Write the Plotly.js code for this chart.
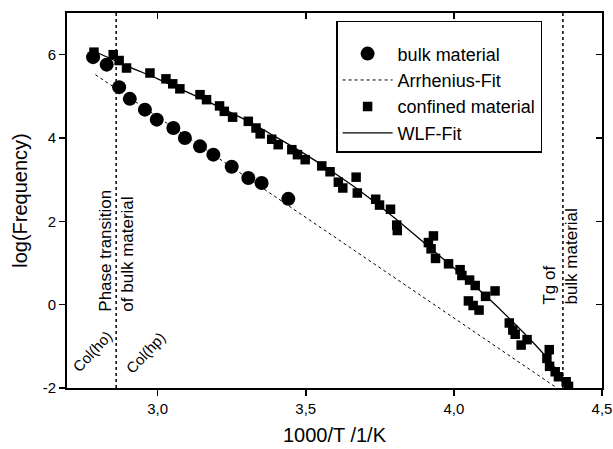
<!DOCTYPE html>
<html>
<head>
<meta charset="utf-8">
<script src="https://cdn.plot.ly/plotly-3.0.1.min.js"></script>
<style>html,body{margin:0;padding:0;background:#fff;}#chart{width:613px;height:449px;}</style>
</head>
<body>
<div id="chart"></div>
<script>
// ---- data ----
const bulkX = [2.782, 2.828, 2.870, 2.906, 2.957, 2.997, 3.053, 3.092, 3.143, 3.188, 3.250, 3.306, 3.351, 3.441];
const bulkY = [5.94, 5.76, 5.22, 4.94, 4.68, 4.44, 4.24, 4.00, 3.80, 3.60, 3.31, 3.04, 2.92, 2.54];

const arrheniusX = [2.790, 4.342];
const arrheniusY = [5.52, -1.97];

const confX = [2.785, 2.850, 2.870, 2.895, 2.974, 3.028, 3.051, 3.075, 3.143, 3.165,
               3.209, 3.225, 3.253, 3.306, 3.332, 3.346, 3.385, 3.407, 3.453, 3.472,
               3.498, 3.554, 3.582, 3.610, 3.625, 3.670, 3.674, 3.736, 3.749, 3.786,
               3.807, 3.809, 3.914, 3.931, 3.923, 3.938, 3.982, 4.021, 4.027, 4.053,
               4.072, 4.107, 4.139, 4.049, 4.065, 4.085, 4.187, 4.199, 4.207, 4.247,
               4.227, 4.322, 4.314, 4.323, 4.342, 4.353, 4.379, 4.387];
const confY = [6.06, 6.00, 5.86, 5.68, 5.56, 5.42, 5.30, 5.18, 5.04, 4.92,
               4.77, 4.64, 4.50, 4.40, 4.24, 4.10, 3.97, 3.84, 3.72, 3.60,
               3.48, 3.33, 3.19, 2.94, 2.80, 3.06, 2.68, 2.53, 2.39, 2.29,
               1.91, 1.78, 1.49, 1.65, 1.34, 1.11, 0.98, 0.84, 0.70, 0.59,
               0.46, 0.20, 0.33, 0.09, -0.02, -0.13, -0.44, -0.61, -0.71, -0.84,
               -0.97, -1.08, -1.29, -1.48, -1.61, -1.73, -1.85, -1.96];

const wlfX = [2.78, 2.90, 3.00, 3.10, 3.20, 3.30, 3.40, 3.50, 3.60, 3.70, 3.80, 3.90, 4.00, 4.10, 4.20, 4.30, 4.39];
const wlfY = [6.10, 5.72, 5.42, 5.10, 4.77, 4.42, 4.02, 3.60, 3.14, 2.64, 2.08, 1.48, 0.88, 0.26, -0.42, -1.16, -1.97];

const phaseTransitionX = 2.86;
const tgBulkX = 4.368;

const xTickVals = [3.0, 3.5, 4.0, 4.5];
const xTickText = ['3,0', '3,5', '4,0', '4,5'];
const yTickVals = [-2, 0, 2, 4, 6];
const yTickText = ['-2', '0', '2', '4', '6'];

const seriesNames = ['bulk material', 'Arrhenius-Fit', 'confined material', 'WLF-Fit'];

// ---- chart ----
const FONT = 'Arial, "Liberation Sans", Helvetica, sans-serif';
const xRange = [2.694, 4.5];
const yRange = [-2, 7];

const traces = [
  {x: bulkX, y: bulkY, name: seriesNames[0], type: 'scatter', mode: 'markers',
   marker: {symbol: 'circle', size: 14, color: '#000'}},
  {x: arrheniusX, y: arrheniusY, name: seriesNames[1], type: 'scatter', mode: 'lines',
   line: {color: '#000', width: 1, dash: 'dot'}},
  {x: confX, y: confY, name: seriesNames[2], type: 'scatter', mode: 'markers',
   marker: {symbol: 'square', size: 9.5, color: '#000'}},
  {x: wlfX, y: wlfY, name: seriesNames[3], type: 'scatter', mode: 'lines',
   line: {color: '#000', width: 1.3, shape: 'spline'}},
  // invisible copy on the overlay axes so the inside-pointing top/right ticks are drawn
  {x: confX, y: confY, xaxis: 'x2', yaxis: 'y2', showlegend: false, hoverinfo: 'skip',
   type: 'scatter', mode: 'markers', marker: {opacity: 0, size: 1}}
];

const axisCommon = {
  showline: true, linecolor: '#000', linewidth: 2,
  showgrid: false, zeroline: false,
  ticks: 'outside', ticklen: 6, tickwidth: 1.5, tickcolor: '#000',
  tickfont: {family: FONT, size: 15, color: '#000'}
};

const layout = {
  width: 613, height: 449,
  margin: {l: 67, r: 11, t: 13, b: 61},
  paper_bgcolor: '#fff', plot_bgcolor: '#fff',
  font: {family: FONT, color: '#000'},
  showlegend: true,
  legend: {
    x: 0.503, y: 0.979, xanchor: 'left', yanchor: 'top',
    bordercolor: '#000', borderwidth: 1.5, bgcolor: '#fff',
    font: {family: FONT, size: 18, color: '#000'},
    title: {text: ' ', font: {family: FONT, size: 10}},
    itemwidth: 50
  },
  xaxis: Object.assign({}, axisCommon, {
    range: xRange, tickvals: xTickVals, ticktext: xTickText, mirror: true,
    title: {text: '1000/T /1/K', font: {family: FONT, size: 20, color: '#000'}, standoff: 12}
  }),
  yaxis: Object.assign({}, axisCommon, {
    range: yRange, tickvals: yTickVals, ticktext: yTickText, mirror: true,
    title: {text: 'log(Frequency)', font: {family: FONT, size: 20, color: '#000'}, standoff: 10}
  }),
  xaxis2: {
    overlaying: 'x', side: 'top', anchor: 'y2', range: xRange, tickvals: xTickVals, showticklabels: false,
    ticks: 'inside', ticklen: 6, tickwidth: 1.5, tickcolor: '#000',
    showgrid: false, zeroline: false, showline: false
  },
  yaxis2: {
    overlaying: 'y', side: 'right', anchor: 'x2', range: yRange, tickvals: yTickVals, showticklabels: false,
    ticks: 'inside', ticklen: 6, tickwidth: 1.5, tickcolor: '#000',
    showgrid: false, zeroline: false, showline: false
  },
  shapes: [
    {type: 'line', xref: 'x', yref: 'paper', x0: phaseTransitionX, x1: phaseTransitionX, y0: 0, y1: 1,
     line: {color: '#000', width: 1.5, dash: 'dot'}},
    {type: 'line', xref: 'x', yref: 'paper', x0: tgBulkX, x1: tgBulkX, y0: 0, y1: 1,
     line: {color: '#000', width: 1.5, dash: 'dot'}}
  ],
  annotations: [
    {xref: 'x', yref: 'y', x: phaseTransitionX, y: 1.30, text: 'Phase transition<br>of bulk material',
     textangle: -90, align: 'left', showarrow: false, font: {family: FONT, size: 17, color: '#000'}},
    {xref: 'x', yref: 'y', x: tgBulkX - 0.007, y: 1.15, text: 'Tg of<br>bulk material',
     textangle: -90, align: 'left', showarrow: false, font: {family: FONT, size: 17, color: '#000'}},
    {xref: 'x', yref: 'y', x: 2.779, y: -1.13, text: 'Col(ho)',
     textangle: -47, showarrow: false, font: {family: FONT, size: 15, color: '#000'}},
    {xref: 'x', yref: 'y', x: 2.960, y: -1.15, text: 'Col(hp)',
     textangle: -47, showarrow: false, font: {family: FONT, size: 15, color: '#000'}}
  ]
};

Plotly.newPlot('chart', traces, layout, {staticPlot: true, displayModeBar: false});
</script>
</body>
</html>
